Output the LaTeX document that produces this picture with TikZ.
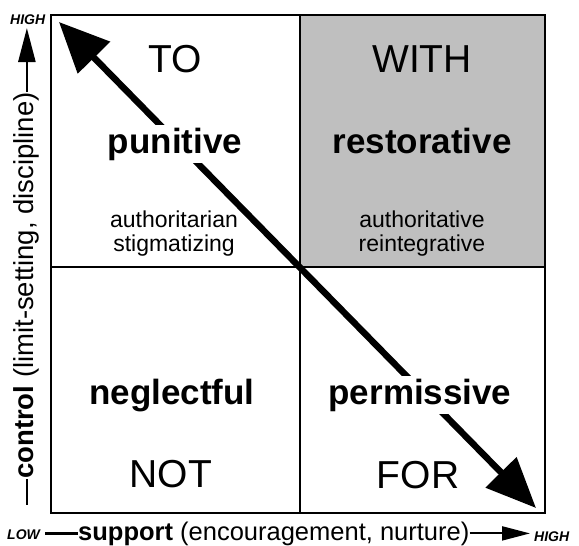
\documentclass[tikz,border=0pt]{standalone}
\usepackage{fontspec}
\setmainfont{Liberation Sans}
\usetikzlibrary{arrows.meta}
\begin{document}
\begin{tikzpicture}[x=1pt,y=-1pt,
  caps/.style={font=\fontsize{39}{40}\selectfont, inner sep=0pt, anchor=base},
  key/.style={font=\bfseries\fontsize{35}{36}\selectfont, inner sep=0pt, anchor=base},
  keywhite/.style={key, fill=white, inner xsep=2pt, inner ysep=3pt},
  small/.style={font=\fontsize{23}{25}\selectfont, inner sep=0pt, anchor=base},
  axislabel/.style={font=\fontsize{25.5}{26}\selectfont, inner sep=0pt, anchor=base west},
  tag/.style={font=\bfseries\itshape\fontsize{14}{15}\selectfont, inner sep=0pt, anchor=base west},
  frame/.style={line width=2.2pt},
  gridline/.style={line width=2pt},
  shade/.style={fill=black!25},
  bigarrow/.style={line width=6.5pt, {Triangle[length=50pt,width=44pt]}-{Triangle[length=50pt,width=42pt]}},
  axisline/.style={line width=2.5pt},
  axisarrow/.style={line width=2.5pt, -{Triangle[length=34pt,width=17pt]}},
  axisarrowb/.style={line width=2pt, -{Triangle[length=28pt,width=14pt]}},
]
\useasboundingbox (0,0) rectangle (579,546);

% shaded quadrant and frame
\fill[shade] (300,15) rectangle (545,267);
\draw[frame] (51,15) rectangle (545,513);
\draw[gridline] (300,15) -- (300,513);
\draw[gridline] (51,267) -- (545,267);

% diagonal double arrow
\coordinate (tl) at (59,22);
\coordinate (br) at (536,508);
\draw[bigarrow] (tl) -- (br);

% quadrant texts
\node[caps] (to) at (175,72) {TO};
\node[keywhite] (pun) at (175,153) {punitive};
\node[small] (auth1) at (174,227) {authoritarian};
\node[small] (stig) at (174,251) {stigmatizing};

\node[caps] (with) at (422,72) {WITH};
\node[key] (rest) at (422,153) {restorative};
\node[small] (auth2) at (422,227) {authoritative};
\node[small] (reint) at (422,251) {reintegrative};

\node[key] (negl) at (172,404) {neglectful};
\node[caps] (not) at (171,487) {NOT};

\node[keywhite] (perm) at (420,404) {permissive};
\node[caps] (for) at (418,488) {FOR};

% left axis
\node[axislabel, font=\fontsize{27.5}{28}\selectfont, rotate=90] (ctl) at (34,479) {\textbf{control} (limit-setting, discipline)};
\coordinate (lowY) at (0,505);
\coordinate (highY) at (0,28);
\draw[axisline] (ctl.west) -- (ctl.west |- lowY);
\draw[axisarrow] (ctl.east) -- (ctl.east |- highY);
\node[tag] (highL) at (10,24) {HIGH};

% bottom axis
\node[axislabel] (sup) at (78,540) {\textbf{support} (encouragement, nurture)};
\coordinate (lowX) at (45,0);
\coordinate (highX) at (530,0);
\draw[axisline] (lowX |- sup.west) -- (sup.west);
\draw[axisarrowb] (sup.east) -- (highX |- sup.east);
\node[tag] (lowB) at (7,539) {LOW};
\node[tag] (highB) at (534,541) {HIGH};
\end{tikzpicture}
\end{document}
